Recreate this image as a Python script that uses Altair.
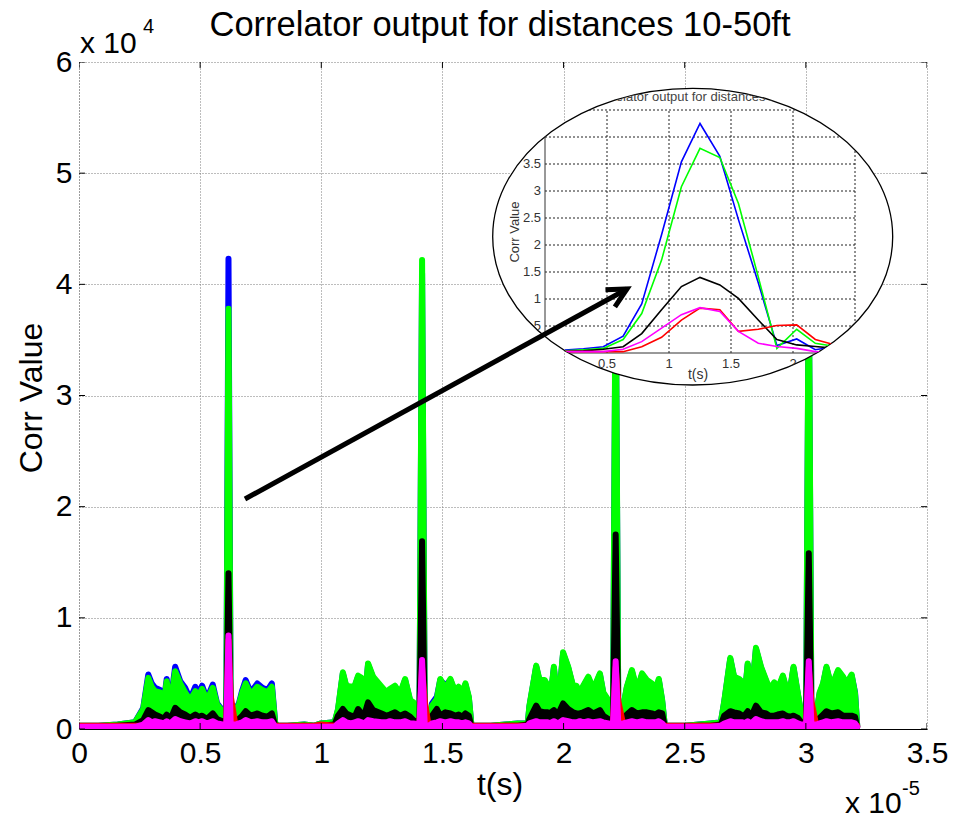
import altair as alt
import pandas as pd

FONT = "Liberation Sans"

# ---------------- main data: t in units of 1e-5 s, values in units of 1e4 ----------------
T_MAIN = (
    [0.0, 0.08, 0.16]
    + [0.231, 0.265, 0.286, 0.300, 0.314, 0.335, 0.348, 0.362, 0.376, 0.397, 0.418, 0.438,
       0.459, 0.480, 0.494, 0.508, 0.528, 0.552, 0.570, 0.592, 0.608, 0.617, 0.626, 0.646,
       0.660, 0.674, 0.688, 0.709, 0.736, 0.757, 0.778, 0.796, 0.810, 0.819]
    + [0.86, 0.93]
    + [0.972, 0.999, 1.055, 1.069, 1.089, 1.103, 1.124, 1.138, 1.152, 1.166, 1.177, 1.193,
       1.214, 1.249, 1.269, 1.283, 1.304, 1.325, 1.346, 1.367, 1.380, 1.405, 1.416, 1.427,
       1.443, 1.457, 1.477, 1.491, 1.512, 1.533, 1.554, 1.567, 1.581, 1.595, 1.609, 1.620]
    + [1.70, 1.76]
    + [1.811, 1.852, 1.859, 1.887, 1.901, 1.922, 1.935, 1.942, 1.960, 1.977, 1.998, 2.019,
       2.039, 2.053, 2.067, 2.081, 2.102, 2.123, 2.150, 2.164, 2.185, 2.204, 2.215, 2.226,
       2.247, 2.261, 2.282, 2.303, 2.324, 2.344, 2.365, 2.379, 2.393, 2.407, 2.418]
    + [2.50, 2.56]
    + [2.607, 2.649, 2.663, 2.688, 2.704, 2.725, 2.739, 2.746, 2.760, 2.774, 2.794, 2.815,
       2.836, 2.850, 2.870, 2.884, 2.905, 2.919, 2.933, 2.949, 2.967, 2.981, 3.001, 3.012,
       3.023, 3.043, 3.057, 3.071, 3.085, 3.106, 3.133, 3.154, 3.168, 3.189, 3.203, 3.212]
)

BLUE_MAIN = (
    [0.03, 0.03, 0.04]
    + [0.06, 0.19, 0.49, 0.41, 0.37, 0.35, 0.21, 0.45, 0.21, 0.56, 0.43, 0.37, 0.27, 0.38,
       0.32, 0.39, 0.27, 0.40, 0.23, 0.17, 0.16, 4.23, 0.16, 0.18, 0.23, 0.35, 0.44, 0.33,
       0.41, 0.37, 0.35, 0.41, 0.05, 0.03]
    + [0.03, 0.04]
    + [0.03, 0.05, 0.06, 0.17, 0.50, 0.38, 0.37, 0.38, 0.47, 0.45, 0.19, 0.58, 0.46, 0.37,
       0.32, 0.35, 0.38, 0.31, 0.44, 0.25, 0.23, 0.09, 4.10, 0.09, 0.05, 0.23, 0.29, 0.44,
       0.39, 0.44, 0.32, 0.37, 0.31, 0.40, 0.28, 0.03]
    + [0.03, 0.04]
    + [0.05, 0.05, 0.20, 0.56, 0.43, 0.43, 0.38, 0.20, 0.55, 0.17, 0.68, 0.55, 0.38, 0.38,
       0.31, 0.38, 0.46, 0.35, 0.49, 0.32, 0.25, 0.11, 4.05, 0.11, 0.20, 0.37, 0.52, 0.34,
       0.49, 0.43, 0.40, 0.34, 0.44, 0.25, 0.03]
    + [0.03, 0.04]
    + [0.05, 0.06, 0.24, 0.63, 0.46, 0.44, 0.41, 0.25, 0.58, 0.25, 0.72, 0.55, 0.43, 0.35,
       0.41, 0.35, 0.47, 0.36, 0.32, 0.55, 0.31, 0.13, 0.09, 4.05, 0.09, 0.13, 0.32, 0.40,
       0.55, 0.37, 0.52, 0.46, 0.40, 0.48, 0.33, 0.03]
)

GREEN_MAIN = (
    [0.03, 0.03, 0.04]
    + [0.06, 0.18, 0.46, 0.38, 0.34, 0.33, 0.20, 0.43, 0.20, 0.52, 0.41, 0.33, 0.26, 0.34,
       0.30, 0.36, 0.26, 0.37, 0.22, 0.16, 0.15, 3.78, 0.15, 0.17, 0.22, 0.33, 0.41, 0.31,
       0.38, 0.35, 0.33, 0.38, 0.05, 0.03]
    + [0.03, 0.04]
    + [0.03, 0.05, 0.06, 0.18, 0.51, 0.39, 0.38, 0.39, 0.48, 0.46, 0.20, 0.59, 0.47, 0.38,
       0.33, 0.36, 0.39, 0.32, 0.45, 0.26, 0.24, 0.10, 4.22, 0.10, 0.05, 0.21, 0.27, 0.45,
       0.36, 0.45, 0.33, 0.38, 0.32, 0.41, 0.29, 0.03]
    + [0.03, 0.04]
    + [0.05, 0.05, 0.21, 0.57, 0.44, 0.44, 0.39, 0.21, 0.56, 0.18, 0.69, 0.56, 0.39, 0.39,
       0.32, 0.39, 0.47, 0.36, 0.50, 0.33, 0.26, 0.12, 4.20, 0.12, 0.21, 0.38, 0.53, 0.35,
       0.50, 0.44, 0.41, 0.35, 0.45, 0.26, 0.03]
    + [0.03, 0.04]
    + [0.05, 0.06, 0.25, 0.64, 0.47, 0.45, 0.42, 0.26, 0.59, 0.26, 0.73, 0.56, 0.44, 0.36,
       0.42, 0.36, 0.48, 0.37, 0.33, 0.56, 0.32, 0.14, 0.10, 4.20, 0.10, 0.14, 0.33, 0.41,
       0.56, 0.38, 0.53, 0.47, 0.41, 0.49, 0.32, 0.03]
)

BLACK_MAIN = (
    [0.02, 0.02, 0.03]
    + [0.04, 0.08, 0.17, 0.15, 0.13, 0.11, 0.09, 0.13, 0.08, 0.19, 0.15, 0.13, 0.10, 0.13,
       0.11, 0.12, 0.09, 0.14, 0.09, 0.07, 0.06, 1.40, 0.06, 0.07, 0.09, 0.12, 0.16, 0.12,
       0.14, 0.12, 0.11, 0.14, 0.03, 0.02]
    + [0.02, 0.03]
    + [0.02, 0.03, 0.04, 0.12, 0.18, 0.14, 0.12, 0.11, 0.18, 0.14, 0.12, 0.24, 0.17, 0.14,
       0.12, 0.13, 0.15, 0.12, 0.14, 0.11, 0.08, 0.05, 1.69, 0.05, 0.05, 0.12, 0.18, 0.12,
       0.15, 0.14, 0.12, 0.13, 0.11, 0.14, 0.12, 0.02]
    + [0.02, 0.03]
    + [0.03, 0.04, 0.09, 0.21, 0.16, 0.15, 0.15, 0.14, 0.17, 0.13, 0.23, 0.18, 0.15, 0.14,
       0.14, 0.15, 0.17, 0.14, 0.17, 0.12, 0.09, 0.06, 1.75, 0.06, 0.09, 0.13, 0.17, 0.14,
       0.15, 0.15, 0.14, 0.13, 0.15, 0.14, 0.02]
    + [0.02, 0.03]
    + [0.03, 0.04, 0.12, 0.16, 0.15, 0.14, 0.12, 0.12, 0.16, 0.11, 0.21, 0.15, 0.14, 0.12,
       0.12, 0.13, 0.14, 0.12, 0.11, 0.12, 0.10, 0.06, 0.05, 1.58, 0.05, 0.07, 0.10, 0.13,
       0.16, 0.14, 0.15, 0.12, 0.12, 0.12, 0.11, 0.02]
)

RED_MAIN = (
    [0.03, 0.03, 0.03]
    + [0.03, 0.03, 0.05, 0.04, 0.04, 0.04, 0.03, 0.05, 0.03, 0.06, 0.05, 0.04, 0.03, 0.05,
       0.04, 0.05, 0.03, 0.05, 0.03, 0.03, 0.03, 0.80, 0.30, 0.03, 0.03, 0.04, 0.05, 0.04,
       0.05, 0.04, 0.04, 0.05, 0.03, 0.03]
    + [0.03, 0.03]
    + [0.03, 0.04, 0.03, 0.03, 0.05, 0.04, 0.03, 0.04, 0.05, 0.04, 0.03, 0.05, 0.04, 0.04,
       0.03, 0.04, 0.04, 0.04, 0.05, 0.03, 0.03, 0.03, 0.55, 0.25, 0.03, 0.03, 0.04, 0.05,
       0.04, 0.05, 0.04, 0.04, 0.03, 0.04, 0.03, 0.03]
    + [0.03, 0.03]
    + [0.03, 0.03, 0.04, 0.05, 0.04, 0.04, 0.04, 0.03, 0.05, 0.03, 0.06, 0.05, 0.04, 0.04,
       0.05, 0.04, 0.05, 0.04, 0.05, 0.04, 0.03, 0.03, 0.55, 0.25, 0.03, 0.04, 0.05, 0.04,
       0.05, 0.04, 0.04, 0.04, 0.05, 0.03, 0.03]
    + [0.03, 0.03]
    + [0.03, 0.03, 0.04, 0.05, 0.04, 0.04, 0.04, 0.03, 0.05, 0.03, 0.06, 0.05, 0.04, 0.04,
       0.04, 0.04, 0.05, 0.04, 0.04, 0.05, 0.03, 0.03, 0.03, 0.55, 0.25, 0.03, 0.03, 0.04,
       0.05, 0.04, 0.05, 0.04, 0.04, 0.04, 0.03, 0.03]
)

MAGENTA_MAIN = (
    [0.02, 0.02, 0.02]
    + [0.02, 0.04, 0.08, 0.06, 0.07, 0.06, 0.05, 0.07, 0.05, 0.09, 0.07, 0.06, 0.05, 0.07,
       0.06, 0.07, 0.05, 0.07, 0.05, 0.04, 0.04, 0.84, 0.04, 0.04, 0.05, 0.06, 0.08, 0.06,
       0.07, 0.06, 0.06, 0.07, 0.02, 0.02]
    + [0.02, 0.02]
    + [0.02, 0.02, 0.02, 0.05, 0.08, 0.06, 0.05, 0.06, 0.07, 0.06, 0.05, 0.08, 0.07, 0.06,
       0.06, 0.07, 0.06, 0.06, 0.07, 0.05, 0.05, 0.04, 0.62, 0.04, 0.03, 0.05, 0.06, 0.07,
       0.06, 0.07, 0.06, 0.06, 0.05, 0.06, 0.05, 0.02]
    + [0.02, 0.02]
    + [0.02, 0.03, 0.05, 0.07, 0.06, 0.06, 0.06, 0.05, 0.07, 0.05, 0.08, 0.07, 0.06, 0.06,
       0.07, 0.06, 0.07, 0.06, 0.07, 0.06, 0.05, 0.04, 0.61, 0.04, 0.05, 0.06, 0.07, 0.06,
       0.07, 0.06, 0.06, 0.06, 0.07, 0.05, 0.02]
    + [0.02, 0.02]
    + [0.02, 0.03, 0.05, 0.07, 0.06, 0.06, 0.06, 0.05, 0.07, 0.05, 0.09, 0.07, 0.06, 0.06,
       0.06, 0.06, 0.07, 0.06, 0.06, 0.07, 0.05, 0.04, 0.04, 0.61, 0.04, 0.04, 0.05, 0.06,
       0.07, 0.06, 0.07, 0.06, 0.06, 0.06, 0.05, 0.02]
)

# ---------------- inset (zoom of first peak) ----------------
T_INSET = [0.16, 0.31, 0.47, 0.63, 0.78, 0.94, 1.10, 1.25, 1.41, 1.56, 1.72, 1.87, 2.03, 2.18, 2.34]
BLUE_INSET = [0.056, 0.08, 0.117, 0.31, 0.91, 2.19, 3.54, 4.25, 3.64, 2.47, 1.30, 0.14, 0.26, 0.06, 0.12]
GREEN_INSET = [0.043, 0.06, 0.086, 0.25, 0.73, 1.72, 3.08, 3.79, 3.62, 2.77, 1.41, 0.086, 0.44, 0.18, 0.12]
BLACK_INSET = [0.025, 0.04, 0.068, 0.117, 0.36, 0.80, 1.23, 1.40, 1.26, 1.01, 0.61, 0.25, 0.15, 0.12, 0.086]
RED_INSET = [0.025, 0.025, 0.025, 0.025, 0.117, 0.29, 0.61, 0.83, 0.80, 0.40, 0.44, 0.51, 0.52, 0.25, 0.15]
MAGENTA_INSET = [0.025, 0.025, 0.025, 0.068, 0.21, 0.46, 0.71, 0.84, 0.77, 0.40, 0.18, 0.12, 0.086, 0.025, 0.02]

INSET_XTICKS = [0.5, 1, 1.5, 2, 2.5]
INSET_XLABELS = ["0.5", "1", "1.5", "2", "2.5"]
INSET_YTICKS = [0.5, 1, 1.5, 2, 2.5, 3, 3.5, 4, 4.5]
INSET_YLABELS = ["0.5", "1", "1.5", "2", "2.5", "3", "3.5", "4", "4.5"]

X_TICKS = [0, 0.5, 1, 1.5, 2, 2.5, 3, 3.5]
Y_TICKS = [0, 1, 2, 3, 4, 5, 6]

COLORS = {"blue": "#0000ff", "green": "#00ff00", "black": "#000000",
          "red": "#ff0000", "magenta": "#ff00ff"}

W, H = 848, 667

# ---------------- main layers ----------------
x_main = alt.X("t:Q", scale=alt.Scale(domain=[0, 3.5], nice=False, zero=False),
               axis=alt.Axis(values=X_TICKS, format="~g", title=None, labelFont=FONT,
                             labelFontSize=30, labelColor="black", labelPadding=9,
                             labelFlush=False, ticks=False, grid=True, gridColor="#7a7a7a",
                             gridDash=[1, 2], gridWidth=1, domainColor="black", domainWidth=1))
y_main = alt.Y("v:Q", scale=alt.Scale(domain=[0, 6], nice=False, zero=False),
               axis=alt.Axis(values=Y_TICKS, format="~g", title=None, labelFont=FONT,
                             labelFontSize=30, labelColor="black", labelPadding=7,
                             labelFlush=False, ticks=False, grid=True, gridColor="#7a7a7a",
                             gridDash=[1, 2], gridWidth=1, domainColor="#7a7a7a",
                             domainDash=[1, 2], domainWidth=1))

main_layers = []
for name, vals in [("blue", BLUE_MAIN), ("green", GREEN_MAIN), ("black", BLACK_MAIN),
                   ("red", RED_MAIN), ("magenta", MAGENTA_MAIN)]:
    df = pd.DataFrame({"t": T_MAIN, "v": vals})
    c = COLORS[name]
    base = alt.Chart(df)
    main_layers.append(base.mark_area(color=c, opacity=1, clip=True).encode(x=x_main, y=y_main))
    main_layers.append(base.mark_line(color=c, strokeWidth=6, strokeCap="round",
                                      strokeJoin="round", clip=True).encode(x=x_main, y=y_main))

# inward box ticks (outer halves clipped away)
tick_h = pd.DataFrame({"t": X_TICKS + X_TICKS, "v": [0] * 8 + [6] * 8})
tick_v = pd.DataFrame({"v": Y_TICKS + Y_TICKS, "t": [0] * 7 + [3.5] * 7})
main_layers.append(alt.Chart(tick_h).mark_tick(orient="vertical", size=12, thickness=1,
                                               color="black", opacity=1, clip=True).encode(
    x=x_main, y=y_main))
main_layers.append(alt.Chart(tick_v).mark_tick(orient="horizontal", size=12, thickness=1,
                                               color="black", opacity=1, clip=True).encode(
    x=x_main, y=y_main))
main = alt.layer(*main_layers)

# ---------------- magnifier ellipse ----------------
ELLIPSE_SHAPE = ("M 1 0 C 1 0.4095 0.5523 0.7415 0 0.7415 C -0.5523 0.7415 -1 0.4095 -1 0 "
                 "C -1 -0.4095 -0.5523 -0.7415 0 -0.7415 C 0.5523 -0.7415 1 -0.4095 1 0 Z")
CLIP_PATH = "M 413.7 174.7 A 200 148.3 0 1 0 813.7 174.7 A 200 148.3 0 1 0 413.7 174.7 Z"
CLIP = alt.ExprRef(expr="pathShape('" + CLIP_PATH + "')")

one = pd.DataFrame({"a": [0]})
ellipse = alt.Chart(one).mark_point(shape=ELLIPSE_SHAPE, size=160000, filled=True,
                                    fill="white", stroke="black", strokeWidth=1.3,
                                    opacity=1, fillOpacity=1).encode(
    x=alt.value(613.7), y=alt.value(174.7))

# ---------------- inset layers ----------------
xs_in = alt.Scale(domain=[0, 2.5], range=[466, 776], nice=False, zero=False)
ys_in = alt.Scale(domain=[0, 4.5], range=[291, 48], nice=False, zero=False)

vgrid = pd.DataFrame({"gx": INSET_XTICKS, "y0": [0] * 5, "y1": [4.5] * 5})
hgrid = pd.DataFrame({"gy": INSET_YTICKS, "x0": [0] * 9, "x1": [2.5] * 9})
inset_layers = [
    alt.Chart(vgrid).mark_rule(color="#222", strokeDash=[2, 2], strokeWidth=1, clip=CLIP).encode(
        x=alt.X("gx:Q", scale=xs_in, axis=None), y=alt.Y("y0:Q", scale=ys_in, axis=None), y2="y1:Q"),
    alt.Chart(hgrid).mark_rule(color="#222", strokeDash=[2, 2], strokeWidth=1, clip=CLIP).encode(
        y=alt.Y("gy:Q", scale=ys_in, axis=None), x=alt.X("x0:Q", scale=xs_in, axis=None), x2="x1:Q"),
    alt.Chart(pd.DataFrame({"x": [0], "y0": [0], "y1": [4.5]})).mark_rule(
        color="#333", strokeWidth=1, clip=CLIP).encode(
        x=alt.X("x:Q", scale=xs_in, axis=None), y=alt.Y("y0:Q", scale=ys_in, axis=None), y2="y1:Q"),
    alt.Chart(pd.DataFrame({"y": [0], "x0": [0], "x1": [2.5]})).mark_rule(
        color="#333", strokeWidth=1, clip=CLIP).encode(
        y=alt.Y("y:Q", scale=ys_in, axis=None), x=alt.X("x0:Q", scale=xs_in, axis=None), x2="x1:Q"),
    alt.Chart(pd.DataFrame({"x": INSET_XTICKS, "y": [0] * 5, "lab": INSET_XLABELS})).mark_text(
        font=FONT, fontSize=13, color="#333", baseline="middle", dy=11, clip=CLIP).encode(
        x=alt.X("x:Q", scale=xs_in, axis=None), y=alt.Y("y:Q", scale=ys_in, axis=None), text="lab:N"),
    alt.Chart(pd.DataFrame({"y": INSET_YTICKS, "x": [0] * 9, "lab": INSET_YLABELS})).mark_text(
        font=FONT, fontSize=13, color="#333", baseline="middle", align="right", dx=-4, clip=CLIP).encode(
        x=alt.X("x:Q", scale=xs_in, axis=None), y=alt.Y("y:Q", scale=ys_in, axis=None), text="lab:N"),
]
for name, vals in [("blue", BLUE_INSET), ("green", GREEN_INSET), ("black", BLACK_INSET),
                   ("red", RED_INSET), ("magenta", MAGENTA_INSET)]:
    df = pd.DataFrame({"t": T_INSET, "v": vals})
    inset_layers.append(alt.Chart(df).mark_line(color=COLORS[name], strokeWidth=1.6, clip=CLIP).encode(
        x=alt.X("t:Q", scale=xs_in, axis=None), y=alt.Y("v:Q", scale=ys_in, axis=None)))

inset_text = [
    alt.Chart(one).mark_text(text="Correlator output for distances 10-50ft", font=FONT, fontSize=13,
                             color="#444", align="center", baseline="alphabetic", clip=CLIP).encode(
        x=alt.value(621), y=alt.value(39)),
    alt.Chart(one).mark_text(text="Corr Value", font=FONT, fontSize=13, color="#333", angle=270,
                             align="center", baseline="middle", clip=CLIP).encode(
        x=alt.value(436), y=alt.value(170)),
    alt.Chart(one).mark_text(text="t(s)", font=FONT, fontSize=14, color="#333",
                             align="center", baseline="middle", clip=CLIP).encode(
        x=alt.value(619), y=alt.value(313)),
]
inset = alt.layer(*inset_layers, *inset_text)

# ---------------- arrow ----------------
arrow_line = alt.Chart(one).mark_rule(color="black", strokeWidth=5).encode(
    x=alt.value(166), y=alt.value(437), x2=alt.value(548), y2=alt.value(227))
arrow_head = alt.Chart(one).mark_point(shape="M -1 -0.51 L 0 0 L -1 0.51", size=1475, filled=False,
                                       color="black", strokeWidth=5, angle=331.2, opacity=1).encode(
    x=alt.value(548), y=alt.value(227))

# ---------------- titles / exponent labels ----------------
def txt(s, x, y, size, **kw):
    return alt.Chart(one).mark_text(text=s, font=FONT, fontSize=size, color="black", **kw).encode(
        x=alt.value(x), y=alt.value(y))

texts = [
    txt("Correlator output for distances 10-50ft", 421, -26, 34.5, align="center", baseline="alphabetic"),
    txt("x 10", 1, -9, 30, align="left", baseline="alphabetic"),
    txt("4", 64, -29, 20, align="left", baseline="alphabetic"),
    txt("Corr Value", -47, 336, 32, align="center", baseline="middle", angle=270),
    txt("t(s)", 421, 723, 32, align="center", baseline="middle"),
    txt("x 10", 766, 751, 30, align="left", baseline="alphabetic"),
    txt("-5", 823, 733, 20, align="left", baseline="alphabetic"),
]

chart = alt.layer(main, ellipse, inset, arrow_line, arrow_head, *texts).resolve_scale(
    x="independent", y="independent"
).properties(
    width=W, height=H,
    padding={"left": 79, "top": 62, "right": 29, "bottom": 89},
    autosize=alt.AutoSizeParams(type="none"),
    background="white",
).configure_view(strokeWidth=0)

chart.save("out.html", embed_options={"renderer": "svg", "actions": False})
